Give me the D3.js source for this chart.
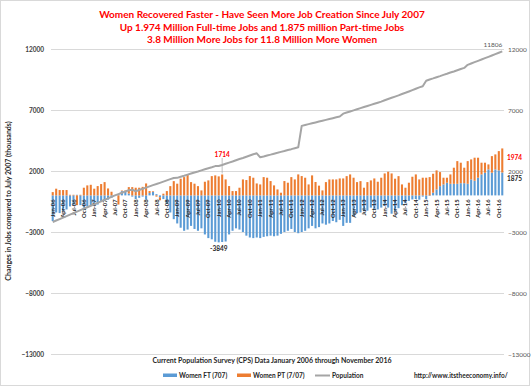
<!DOCTYPE html>
<html>
<head>
<meta charset="utf-8">
<script src="https://cdn.jsdelivr.net/npm/d3@7"></script>
<style>
  body { margin: 0; background: #fff; }
  text { font-family: Lato, "Open Sans", sans-serif; }
</style>
</head>
<body>
<div id="figure"></div>
<script>
const width = 532,
      height = 387;

// Categories: Jan-06 .. Nov-16
const monthNames = ["Jan", "Feb", "Mar", "Apr", "May", "Jun", "Jul", "Aug", "Sep", "Oct", "Nov", "Dec"];
const yearLabels = ["06", "07", "08", "09", "10", "11", "12", "13", "14", "15", "16"];
const months = yearLabels.flatMap(yr => monthNames.map(m => `${m}-${yr}`)).slice(0, 131);

// Women full-time jobs vs July 2007 (thousands)
const ftJobs = [
  -2100, -1400, -1450, -1300, -1150, -900, -800, 50, -800, -1000, -900, -800,
  -650, -750, -500, -350, -350, -200, 0, 100, 350, 300, 150, -100,
  -300, -200, -100, -350, 200, 300, 100, -150, -300, -700, -1400, -1950,
  -2300, -2650, -2900, -2800, -2500, -2750, -2900, -2700, -3200, -3500, -3600, -3800,
  -3849, -3820, -3780, -3200, -2900, -2700, -2800, -3000, -3300, -3450, -3500, -3450,
  -3500, -3400, -3350, -3300, -3350, -3300, -3150, -3000, -2900, -2750, -3000, -3100,
  -3000, -2900, -2700, -2500, -2700, -2600, -2300, -2400, -2300, -2100, -2200, -2000,
  -2500, -2250, -2250, -1700, -1450, -1400, -1300, -1250, -1000, -1150, -1150, -1000,
  -870, -1000, -1500, -1300, -1050, -800, -650, -450, -330, -300, -350, -100,
  -300, -50, 220, 490, 760, 900, 1040, 950, 950, 950, 1000, 1000,
  950, 1310, 1200, 1450, 1720, 1860, 2130, 1860, 2130, 2050, 1875
];

// Women part-time jobs vs July 2007 (thousands)
const ptJobs = [
  270, 550, 440, 440, 440, 50, 50, -800, 50, 630, 820, 870,
  550, 765, 930, 1090, 570, 300, 0, -750, 50, 100, 530, 680,
  630, 630, 700, 980, 155, 50, -100, -250, 140, 355, 760, 1170,
  960, 1370, 1500, 1670, 1090, 960, 760, 410, 1120, 1230, 1580, 1640,
  1560, 1714, 1310, 765, 355, 355, 630, 1310, 1260, 1585, 1450, 980,
  900, 1500, 1450, 1175, 820, 490, 220, 1175, 1040, 1500, 1310, 1720,
  1585, 1450, 900, 1640, 1100, 800, 410, 1090, 1310, 1310, 1310, 1390,
  1390, 1580, 1720, 1450, 1090, 1170, 630, 1090, 1230, 1390, 1120, 1450,
  1800, 1940, 1800, 1370, 1580, 900, 630, 1040, 1530, 1720, 1310, 1450,
  1450, 1500, 1555, 1560, 1150, 550, 410, 770, 1320, 1860, 1680, 1270,
  1860, 1640, 1890, 1640, 960, 820, 410, 1360, 1230, 1580, 1974
];

// Women population vs July 2007 (thousands)
const population = [
  -2180, -2060, -1940, -1820, -1700, -1580, -1455, -1330, -1210, -1090, -970, -850,
  -730, -610, -485, -365, -245, -120, 0, 110, 220, 320, 420, 470,
  340, 440, 540, 640, 740, 840, 930, 1030, 1130, 1230, 1330, 1430,
  1440, 1530, 1610, 1700, 1790, 1880, 1960, 2050, 2140, 2230, 2310, 2400,
  2410, 2490, 2590, 2690, 2780, 2880, 2980, 3070, 3170, 3270, 3370, 3450,
  3120, 3190, 3270, 3340, 3420, 3490, 3570, 3640, 3720, 3790, 3870, 3940,
  5700, 5770, 5840, 5910, 5980, 6050, 6120, 6190, 6260, 6330, 6400, 6470,
  6700, 6790, 6880, 6970, 7060, 7150, 7240, 7330, 7420, 7510, 7600, 7690,
  7800, 7900, 8000, 8100, 8200, 8310, 8410, 8520, 8630, 8740, 8850, 8950,
  9400, 9500, 9590, 9690, 9780, 9880, 9970, 10070, 10160, 10260, 10360, 10450,
  10700, 10810, 10920, 11030, 11140, 11250, 11360, 11470, 11580, 11690, 11806
];

const yTicks = [-13000, -8000, -3000, 2000, 7000, 12000];

const titleLines = [
  "Women Recovered Faster - Have Seen More Job Creation Since July 2007",
  "Up 1.974 Million Full-time Jobs and 1.875 million Part-time Jobs",
  "3.8 Million More Jobs for 11.8 Million More Women"
];

const blue = "#5b9bd5", orange = "#ed7d31", gray = "#a5a5a5";

const svg = d3.select("#figure").append("svg")
    .attr("width", width)
    .attr("height", height);

// Background and outer border.
svg.append("rect")
    .attr("x", 0.5).attr("y", 0.5)
    .attr("width", width - 3).attr("height", height - 2)
    .attr("fill", "#fff")
    .attr("stroke", "#d9d9d9");

// Scales.
const x = d3.scaleBand()
    .domain(months)
    .range([51, 504])
    .paddingInner(0.4)
    .paddingOuter(0.2);

const y = d3.scaleLinear()
    .domain([-13000, 12000])
    .range([354, 49]);

// Grid.
svg.append("g")
    .attr("stroke", "#d9d9d9")
    .selectAll("line")
    .data(yTicks)
    .join("line")
        .attr("x1", 51)
        .attr("x2", 504)
        .attr("y1", d => Math.round(y(d)) + 0.5)
        .attr("y2", d => Math.round(y(d)) + 0.5);

// Left and right axes.
svg.append("g")
    .attr("transform", "translate(46,0)")
    .call(d3.axisLeft(y).tickValues(yTicks).tickSize(0).tickPadding(2).tickFormat(d3.format("d")))
    .call(g => g.select(".domain").remove())
    .call(g => g.selectAll("text")
        .attr("font-size", 6.5)
        .attr("font-weight", "bold")
        .attr("fill", "#404040"));

svg.append("g")
    .attr("transform", "translate(506,0)")
    .call(d3.axisRight(y).tickValues(yTicks).tickSize(0).tickPadding(2).tickFormat(d3.format("d")))
    .call(g => g.select(".domain").remove())
    .call(g => g.selectAll("text")
        .attr("font-size", 6.5)
        .attr("fill", "#595959"));

// Stacked bars (FT then PT), positive and negative stacked separately.
const table = months.map((m, i) => ({month: m, ft: ftJobs[i], pt: ptJobs[i]}));
const series = d3.stack()
    .keys(["ft", "pt"])
    .offset(d3.stackOffsetDiverging)(table);
const color = d3.scaleOrdinal().domain(["ft", "pt"]).range([blue, orange]);

svg.append("g")
    .selectAll("g")
    .data(series)
    .join("g")
        .attr("fill", d => color(d.key))
    .selectAll("rect")
    .data(d => d)
    .join("rect")
        .attr("x", d => x(d.data.month))
        .attr("width", x.bandwidth())
        .attr("y", d => y(Math.max(d[0], d[1])))
        .attr("height", d => Math.abs(y(d[0]) - y(d[1])));

// Category labels next to the zero line.
svg.append("g")
    .attr("transform", `translate(0,${y(0)})`)
    .call(d3.axisBottom(x).tickValues(months.filter((m, i) => i % 3 === 0)).tickSize(0))
    .call(g => g.select(".domain").remove())
    .call(g => g.selectAll("text")
        .attr("transform", "rotate(-90)")
        .attr("text-anchor", "end")
        .attr("x", -4)
        .attr("y", 0)
        .attr("dy", "0.35em")
        .attr("font-size", 5.8)
        .attr("font-weight", "bold")
        .attr("fill", "#262626"));

// Population line.
const line = d3.line()
    .x((d, i) => x(months[i]) + x.bandwidth() / 2)
    .y(d => y(d));

svg.append("path")
    .datum(population)
    .attr("fill", "none")
    .attr("stroke", gray)
    .attr("stroke-width", 2)
    .attr("stroke-linejoin", "round")
    .attr("d", line);

// Data labels.
const cx = i => x(months[i]) + x.bandwidth() / 2;
const iMaxPT = 49, iMinFT = 48, iLast = 130;

svg.append("line")
    .attr("x1", cx(iMaxPT)).attr("x2", cx(iMaxPT))
    .attr("y1", 158).attr("y2", y(ptJobs[iMaxPT]) - 1)
    .attr("stroke", "#a6a6a6")
    .attr("stroke-width", 0.7);

svg.append("text")
    .attr("x", cx(iMaxPT)).attr("y", 157)
    .attr("text-anchor", "middle")
    .attr("font-size", 6.5).attr("font-weight", "bold")
    .attr("fill", "#ff0000")
    .text(ptJobs[iMaxPT]);

svg.append("text")
    .attr("x", cx(iMinFT)).attr("y", y(ftJobs[iMinFT]) + 9)
    .attr("text-anchor", "middle")
    .attr("font-size", 6.5).attr("font-weight", "bold")
    .attr("fill", "#262626")
    .text(ftJobs[iMinFT]);

svg.append("text")
    .attr("x", 507).attr("y", y(ftJobs[iLast] + ptJobs[iLast]) + 12)
    .attr("font-size", 6.5).attr("font-weight", "bold")
    .attr("fill", "#ff0000")
    .text(ptJobs[iLast]);

svg.append("text")
    .attr("x", 507).attr("y", y(ftJobs[iLast]) + 8)
    .attr("font-size", 6.5).attr("font-weight", "bold")
    .attr("fill", "#262626")
    .text(ftJobs[iLast]);

svg.append("text")
    .attr("x", cx(iLast)).attr("y", y(population[iLast]) - 4)
    .attr("text-anchor", "end")
    .attr("font-size", 6.5)
    .attr("fill", "#595959")
    .text(population[iLast]);

// Title.
svg.append("g")
    .selectAll("text")
    .data(titleLines)
    .join("text")
        .attr("x", 262)
        .attr("y", (d, i) => 18 + i * 12.5)
        .attr("text-anchor", "middle")
        .attr("font-size", 10)
        .attr("font-weight", "bold")
        .attr("fill", "#ff0000")
        .text(d => d);

// Axis titles.
svg.append("text")
    .attr("transform", "translate(11,201) rotate(-90)")
    .attr("text-anchor", "middle")
    .attr("font-size", 7)
    .attr("font-weight", "bold")
    .attr("fill", "#262626")
    .text("Changes in Jobs compared to  July 2007 (thousands)");

svg.append("text")
    .attr("x", 272).attr("y", 363)
    .attr("text-anchor", "middle")
    .attr("font-size", 7)
    .attr("font-weight", "bold")
    .attr("fill", "#262626")
    .text("Current Population Survey (CPS) Data January 2006 through November 2016");

// Legend.
const legend = svg.append("g").attr("transform", "translate(0,375)");
legend.append("rect").attr("x", 163).attr("y", -1.5).attr("width", 14).attr("height", 3.5).attr("fill", blue);
legend.append("text").attr("x", 179).attr("y", 2.5).attr("font-size", 6.5).attr("font-weight", "bold").attr("fill", "#262626").text("Women FT (707)");
legend.append("rect").attr("x", 237).attr("y", -1.5).attr("width", 14).attr("height", 3.5).attr("fill", orange);
legend.append("text").attr("x", 253).attr("y", 2.5).attr("font-size", 6.5).attr("font-weight", "bold").attr("fill", "#262626").text("Women PT (7/07)");
legend.append("line").attr("x1", 315).attr("x2", 330).attr("y1", 0.5).attr("y2", 0.5).attr("stroke", gray).attr("stroke-width", 2);
legend.append("text").attr("x", 332).attr("y", 2.5).attr("font-size", 6.5).attr("font-weight", "bold").attr("fill", "#262626").text("Population");
legend.append("text").attr("x", 414).attr("y", 2.5).attr("font-size", 6.5).attr("font-weight", "bold").attr("fill", "#262626").text("http://www.itstheeconomy.info/");
</script>
</body>
</html>
